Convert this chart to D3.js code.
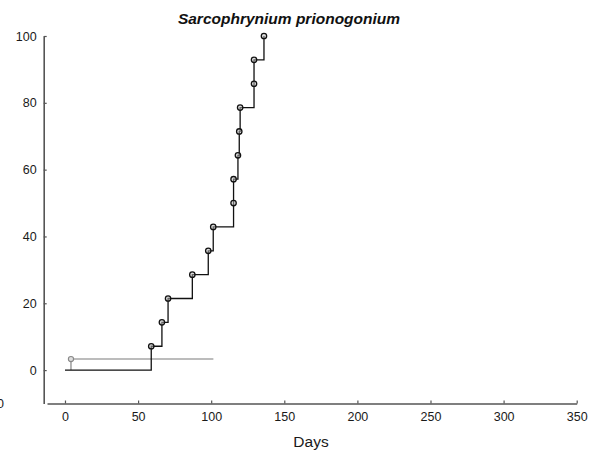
<!DOCTYPE html>
<html>
<head>
<meta charset="utf-8">
<script src="https://cdn.jsdelivr.net/npm/d3@7"></script>
<style>
  html, body { margin: 0; padding: 0; background: #fff; }
  svg { display: block; }
  text { font-family: "Liberation Sans", Arial, sans-serif; }
</style>
</head>
<body>
<svg id="chart" width="595" height="456"></svg>
<script>
// Data
const stepDays = [59, 66.3, 70.5, 87.1, 98, 101.4, 115.3, 115.3, 118.3, 119.2, 119.8, 129.3, 129.3, 136.1];
const stepPct  = [7.14, 14.29, 21.43, 28.57, 35.71, 42.86, 50, 57.14, 64.29, 71.43, 78.57, 85.71, 92.86, 100];
const startDay = 0;
const grayDays = [4.1];
const grayPct  = [3.3];
const grayEndDay = 101.5;
const xTicks = [0, 50, 100, 150, 200, 250, 300, 350];
const yTicks = [0, 20, 40, 60, 80, 100];
const titleText = "Sarcophrynium prionogonium";
const xLabel = "Days";

const svg = d3.select("#chart");

const x = d3.scaleLinear().domain([-12.3, 350]).range([47, 576.7]);
const y = d3.scaleLinear().domain([-10, 100]).range([403.5, 36]);

const axisColor = "#555";

// X axis
const gx = svg.append("g")
  .attr("transform", `translate(0,${y(-10)})`)
  .call(d3.axisBottom(x).tickValues(xTicks).tickSize(-3).tickSizeOuter(0).tickPadding(9));
// Y axis
const gy = svg.append("g")
  .attr("transform", `translate(43.7,0)`)
  .call(d3.axisLeft(y).tickValues(yTicks).tickSize(-3).tickSizeOuter(0).tickPadding(7));

[gx, gy].forEach(g => {
  g.select(".domain").attr("stroke", axisColor).attr("stroke-width", 1.6);
  g.selectAll(".tick line").attr("stroke", axisColor).attr("stroke-width", 1.2);
  g.selectAll(".tick text").attr("fill", "#1a1a1a").style("font-size", "12.5px")
    .style("font-family", '"Liberation Sans", Arial, sans-serif');
});

// Partial label on the left edge (as in the reference)
svg.append("text").attr("x", 4).attr("y", y(-10)).attr("dy", "0.32em")
  .attr("text-anchor", "end").attr("fill", "#1a1a1a").style("font-size", "12.5px").text("0");

// Gray series
const grayPath = d3.path();
grayPath.moveTo(x(grayDays[0]), y(0));
grayPath.lineTo(x(grayDays[0]), y(grayPct[0]));
grayPath.lineTo(x(grayEndDay), y(grayPct[0]));
svg.append("path").attr("d", grayPath.toString()).attr("fill", "none")
  .attr("stroke", "#7a7a7a").attr("stroke-width", 1.1);
svg.selectAll("circle.gray").data(grayDays).join("circle").attr("class", "gray")
  .attr("cx", d => x(d)).attr("cy", (d, i) => y(grayPct[i])).attr("r", 2.6)
  .attr("fill", "#ddd").attr("stroke", "#888").attr("stroke-width", 1.1);

// Black step series
const pts = [[startDay, 0]].concat(stepDays.map((d, i) => [d, stepPct[i]]));
const line = d3.line().x(d => x(d[0])).y(d => y(d[1])).curve(d3.curveStepAfter);
svg.append("path").datum(pts).attr("d", line).attr("fill", "none")
  .attr("stroke", "#111").attr("stroke-width", 1.3);

svg.selectAll("circle.pt").data(stepDays).join("circle").attr("class", "pt")
  .attr("cx", d => x(d)).attr("cy", (d, i) => y(stepPct[i])).attr("r", 2.7)
  .attr("fill", "#bbb").attr("fill-opacity", 0.5).attr("stroke", "#111").attr("stroke-width", 1.3);

// Title
svg.append("text").attr("x", 289).attr("y", 24).attr("text-anchor", "middle")
  .style("font-size", "15.5px").style("font-weight", "bold").style("font-style", "italic")
  .attr("fill", "#111").text(titleText);

// X label
svg.append("text").attr("x", 311).attr("y", 446.5).attr("text-anchor", "middle")
  .style("font-size", "15.5px").attr("fill", "#1a1a1a").text(xLabel);
</script>
</body>
</html>
